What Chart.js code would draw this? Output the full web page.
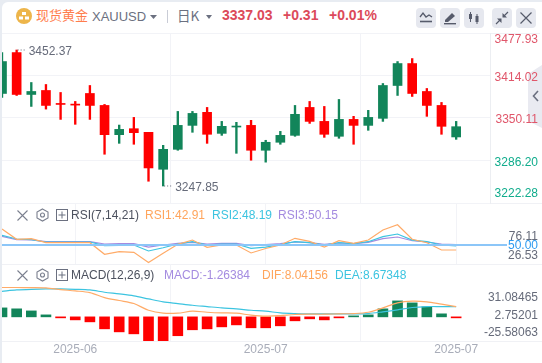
<!DOCTYPE html>
<html>
<head>
<meta charset="utf-8">
<script src="https://cdn.jsdelivr.net/npm/chart.js@4"></script>
<style>
  html, body { margin: 0; padding: 0; background: #e8ecf2; }
  body { width: 542px; height: 363px; overflow: hidden; position: relative; font-family: "Liberation Sans", Arial, sans-serif; }
  #card { position: absolute; left: 2px; top: 2px; width: 540px; height: 361px; background: #fff; border-radius: 6px 0 0 0; }
  .t { position: absolute; white-space: nowrap; line-height: 16px; font-size: 12px; }
  .rule { position: absolute; left: 2px; height: 1px; background: #f0f1f5; }
  .btn { position: absolute; top: 8px; width: 20px; height: 20px; background: #e6e8ef; border-radius: 4px; }
  .btn svg, .ic { position: absolute; }
  canvas { position: absolute; left: 0; }
  #tab { position: absolute; left: 528px; top: 65px; width: 14px; height: 63px; background: #e9eaf1; clip-path: polygon(0 9px, 100% 0, 100% 100%, 0 56px); }
</style>
</head>
<body>
<div id="card"></div>
<div class="rule" style="top:33px;width:538px"></div>
<div class="rule" style="top:203px;width:540px"></div>
<div class="rule" style="top:264px;width:540px"></div>
<div class="rule" style="top:341px;width:540px"></div>
<div id="tab"></div>
<svg class="ic" style="left:532px;top:90px" width="8" height="12"><path d="M6 1 L1.5 6 L6 11" fill="none" stroke="#6b7080" stroke-width="1.6"/></svg>

<svg class="ic" style="left:16px;top:8px" width="16" height="16"><circle cx="8" cy="8" r="8" fill="#edb54a"/><rect x="6" y="4" width="4" height="3" fill="#fff"/><rect x="3" y="8.5" width="4" height="3" fill="#fff"/><rect x="9" y="8.5" width="4" height="3" fill="#fff"/></svg>
<span class="t" style="left:36px;top:7px;font:13px/16px 'Noto Sans CJK SC';color:#ff7d4d">现货黄金</span>
<span class="t" style="left:92px;top:9px;font-size:13px;color:#6b7080">XAUUSD</span>
<svg class="ic" style="left:150px;top:15px" width="7" height="4"><path d="M0 0 H7 L3.5 4 Z" fill="#6b7080"/></svg>
<div class="ic" style="left:167px;top:10px;width:1px;height:13px;background:#c9ccd6"></div>
<span class="t" style="left:177px;top:7px;font:13.5px/16px 'Noto Sans CJK SC';color:#6b7080">日K</span>
<svg class="ic" style="left:206px;top:15px" width="6" height="4"><path d="M0 0 H6 L3 4 Z" fill="#6b7080"/></svg>
<span class="t" style="left:222px;top:7px;font-size:14px;font-weight:bold;color:#dc4a5a">3337.03</span>
<span class="t" style="left:283px;top:7px;font-size:14px;font-weight:bold;color:#dc4a5a">+0.31</span>
<span class="t" style="left:329px;top:7px;font-size:14px;font-weight:bold;color:#dc4a5a">+0.01%</span>

<div class="btn" style="left:416px"><svg width="20" height="20" fill="none" stroke="#565b6b" stroke-width="1.3"><path d="M4 9 L7 5 L10 9 L13 7 L16 9"/><path d="M4 13.5 H16" stroke-width="1.6"/></svg></div>
<div class="btn" style="left:440px"><svg width="20" height="20"><path d="M5 12 L12 5 L15 8 L8 14 L5 14 Z" fill="#565b6b"/><rect x="4" y="15" width="12" height="1.4" fill="#565b6b"/></svg></div>
<div class="btn" style="left:464px"><svg width="20" height="20" fill="#565b6b" stroke="#565b6b"><path d="M6.5 4 V14" stroke-width="1"/><rect x="5" y="6" width="3" height="5" stroke="none"/><path d="M13 6 V16" stroke-width="1"/><rect x="11.5" y="8" width="3" height="6" stroke="none"/></svg></div>
<div class="btn" style="left:492px"><svg width="20" height="20" fill="#565b6b" stroke="#565b6b" stroke-width="1.2"><path d="M4 16 L8.5 11.5 M16 4 L11.5 8.5"/><path d="M5 10.5 H9.5 V15 Z M15 9.5 H10.5 V5 Z" stroke="none"/></svg></div>
<div class="btn" style="left:516px"><svg width="20" height="20" fill="none" stroke="#565b6b" stroke-width="1.2"><path d="M4.5 4.5 L15.5 15.5 M15.5 4.5 L4.5 15.5"/></svg></div>

<canvas id="priceChart" width="542" height="180" style="top:28px"></canvas>
<canvas id="rsiChart" width="542" height="71" style="top:198px"></canvas>
<canvas id="macdChart" width="542" height="104" style="top:259px"></canvas>

<svg class="ic" style="left:16px;top:209px" width="13" height="13" fill="none" stroke="#7a7f8e" stroke-width="1.1"><path d="M1.5 1.5 L11.5 11.5 M11.5 1.5 L1.5 11.5"/></svg>
<svg class="ic" style="left:36px;top:208px" width="13" height="14" fill="none" stroke="#7a7f8e" stroke-width="1.1"><path d="M6.5 1 L12 4 V10 L6.5 13 L1 10 V4 Z"/><circle cx="6.5" cy="7" r="2"/></svg>
<svg class="ic" style="left:56px;top:209px" width="12" height="12" fill="none" stroke="#6b7080" stroke-width="1"><rect x="0.5" y="0.5" width="11" height="11"/><path d="M6 2.5 V9.5 M2.5 6 H9.5"/></svg>
<span class="t" style="left:71px;top:207px;color:#4c515e">RSI(7,14,21)</span>
<span class="t" style="left:145px;top:207px;color:#ffa55c">RSI1:42.91</span>
<span class="t" style="left:212px;top:207px;color:#3cc4e0">RSI2:48.19</span>
<span class="t" style="left:278px;top:207px;color:#a48be0">RSI3:50.15</span>

<svg class="ic" style="left:16px;top:269px" width="13" height="13" fill="none" stroke="#7a7f8e" stroke-width="1.1"><path d="M1.5 1.5 L11.5 11.5 M11.5 1.5 L1.5 11.5"/></svg>
<svg class="ic" style="left:36px;top:268px" width="13" height="14" fill="none" stroke="#7a7f8e" stroke-width="1.1"><path d="M6.5 1 L12 4 V10 L6.5 13 L1 10 V4 Z"/><circle cx="6.5" cy="7" r="2"/></svg>
<svg class="ic" style="left:56px;top:269px" width="12" height="12" fill="none" stroke="#6b7080" stroke-width="1"><rect x="0.5" y="0.5" width="11" height="11"/><path d="M6 2.5 V9.5 M2.5 6 H9.5"/></svg>
<span class="t" style="left:71px;top:267px;color:#4c515e">MACD(12,26,9)</span>
<span class="t" style="left:164px;top:267px;color:#a48be0">MACD:-1.26384</span>
<span class="t" style="left:262px;top:267px;color:#ffa55c">DIF:8.04156</span>
<span class="t" style="left:335px;top:267px;color:#3cc4e0">DEA:8.67348</span>

<script>
const opens  = [3387,3448.5,3385.5,3391.5,3372,3371,3387,3369,3325,3334,3328.6,3273,3303,3339,3358.6,3327,3336.5,3339,3301.6,3313.6,3324,3366,3345,3322.6,3348,3339,3349.6,3399,3432,3390,3369,3321.6];
const highs  = [3448.5,3452.37,3403.5,3400.5,3388.5,3375,3399,3370.5,3339.5,3351,3328.6,3309,3360,3360,3366,3345,3343.6,3346.6,3316.6,3330,3369,3375,3367.5,3378,3352.6,3361.6,3402,3435,3439.5,3394.5,3373.5,3345];
const lows   = [3381,3384,3367.5,3363.5,3348,3340.6,3348,3295.6,3312,3310.6,3255,3247.85,3301.6,3328.6,3312,3324,3297,3286.6,3283.7,3310.6,3322.6,3342,3321,3319.6,3310.6,3331.6,3345,3384,3382.5,3352.6,3325.6,3318];
const closes = [3435,3385.5,3390,3369,3370.5,3369.5,3369,3325,3333,3328,3275,3303,3339,3357,3325.6,3337.6,3338,3301.6,3313.6,3324,3355.6,3345,3325.6,3348,3339,3351,3399,3432,3387,3369,3337.6,3337.03];

const rsi1 = [70.5,57,57.8,52.5,52.5,52.5,52.5,37.2,40.7,39.9,26.53,38.6,50.4,56,46.4,49.5,49.5,39,44.9,49.5,58.3,54.3,46.8,55.1,51.7,56,69.2,76.11,57,52.5,42.9,42.91];
const rsi2 = [62.2,57.4,56.4,53.4,53.4,53.4,53.4,48.6,49.1,49.5,41.6,45.9,50.8,53.8,49.5,50.8,50.8,45.1,46.8,49.9,53.8,52.5,49.5,52.5,51.2,53.8,60.4,63.9,56,53.8,49.5,48.19];
const rsi3 = [60.9,56.4,56.1,53.8,53.8,53.8,53.8,50.8,51.2,51.2,46.8,49.5,51.7,53,50.8,51.7,51.7,48.6,49.9,51.2,53.4,52.5,50.4,52.1,51.2,53,57.8,60,55.1,53.4,50.8,50.15];

const macdHist = [9.5,8.5,6.3,2.1,-1,-3.2,-5.3,-12.7,-15.9,-18,-25.58,-25.4,-20,-13.7,-12.7,-10.6,-8.5,-11.6,-11.6,-9.5,-4.2,-2.1,-3.2,-0.7,0.7,2.1,8.5,16.9,14.8,10.6,3.2,-0.8];
const dif = [31.08,31.08,31,30.7,28.9,27.5,25.7,20.4,17.3,14.1,7,3.9,3.9,6,4.9,4.2,3.9,1.8,0.7,1.4,2.5,2.8,2.8,3.2,3.5,4.9,9.5,14.8,16.6,15.9,13.4,10.9];
const dea = [27.1,28.5,29.2,29.6,29.6,29.2,28.5,26.1,24.3,22.2,19,15.9,14.1,12.3,10.9,9.5,8.5,7,6,4.2,3.5,3.2,3.2,3.2,3.2,3.5,5.3,7.4,9.9,10.9,10.9,10.9];

const priceTicks = [3477.93,3414.02,3350.11,3286.20,3222.28];
const rsiTicks = [76.11,50,26.53];
const macdTicks = [31.08465,2.75201,-25.58063];
const timeTicks = ["2025-06","2025-07","2025-07"];
const timeTickIdx = [5,18,31];

const UP = "#12855a", DOWN = "#ff0000";
const ORANGE = "#ffab68", CYAN = "#3cc4e0", PURPLE = "#a48be0";
const GRID = "#f2f3f7", TEXT = "#666b7a";
const STEP = 14.65; // px between candles
const FONT = "Liberation Sans";

const pts = arr => arr.map((y, x) => ({ x, y }));
const candleColor = closes.map((c, i) => c >= opens[i] ? UP : DOWN);

function lineSet(data, color, tension) {
  return { type: "line", data: pts(data), borderColor: color, borderWidth: 1.2, pointRadius: 0, tension, order: 0 };
}

function xScale(maxPx, showLabels) {
  return {
    type: "linear", offset: false, min: 0, max: maxPx / STEP,
    afterBuildTicks: s => { s.ticks = timeTickIdx.map(value => ({ value })); },
    afterFit: s => { s.height = showLabels ? 22 : 0; },
    border: { display: false },
    grid: { color: GRID, drawTicks: false },
    ticks: {
      display: showLabels, autoSkip: false, maxRotation: 0, padding: 1,
      color: "#a9adb9", font: { family: FONT, size: 12 },
      callback: v => timeTicks[timeTickIdx.indexOf(v)]
    }
  };
}

// tick text sits off its gridline near the pane edges, so it is painted here
function sideLabels(values, texts, shifts, colors) {
  return {
    id: "sideLabels",
    afterDraw(chart) {
      const { ctx, scales: { y } } = chart;
      ctx.save();
      ctx.font = "12px '" + FONT + "'";
      ctx.textAlign = "right";
      ctx.textBaseline = "middle";
      values.forEach((v, i) => {
        ctx.fillStyle = colors[i];
        ctx.fillText(texts[i], 538, y.getPixelForValue(v) + shifts[i]);
      });
      ctx.restore();
    }
  };
}

const extremes = {
  id: "extremes",
  afterDraw(chart) {
    const { ctx, scales: { x, y } } = chart;
    const mark = (value, i) => {
      const px = x.getPixelForValue(i), py = y.getPixelForValue(value);
      ctx.strokeStyle = TEXT;
      ctx.lineWidth = 1;
      ctx.setLineDash([1, 2]);
      ctx.beginPath();
      ctx.moveTo(px + 1, py);
      ctx.lineTo(px + 10, py);
      ctx.stroke();
      ctx.fillStyle = TEXT;
      ctx.font = "12px '" + FONT + "'";
      ctx.textBaseline = "middle";
      ctx.fillText(value.toFixed(2), px + 12, py + 2);
    };
    ctx.save();
    const hi = Math.max(...highs), lo = Math.min(...lows);
    mark(hi, highs.indexOf(hi));
    mark(lo, lows.indexOf(lo));
    ctx.restore();
  }
};

const baseOptions = {
  responsive: false, animation: false,
  plugins: { legend: { display: false }, tooltip: { enabled: false } }
};

new Chart(document.getElementById("priceChart"), {
  type: "bar",
  data: {
    datasets: [
      { data: opens.map((o, i) => ({ x: i, y: [o, closes[i]] })), backgroundColor: candleColor, barThickness: 9, minBarLength: 1, grouped: false, order: 1 },
      { data: highs.map((h, i) => ({ x: i, y: [lows[i], h] })), backgroundColor: candleColor, barThickness: 1.7, grouped: false, order: 2 }
    ]
  },
  options: {
    ...baseOptions,
    layout: { padding: { left: 2, top: 5, bottom: 5 } },
    scales: {
      x: xScale(488, false),
      y: {
        position: "right", min: 3222.28, max: 3477.93,
        afterBuildTicks: s => { s.ticks = priceTicks.map(value => ({ value })); },
        afterFit: s => { s.width = 52; },
        border: { color: "#eceef2" },
        grid: { color: GRID, drawTicks: false },
        ticks: { display: false }
      }
    }
  },
  plugins: [
    sideLabels(priceTicks, priceTicks.map(v => v.toFixed(2)), [7, 2, 1.5, 2, -9],
      ["#e0566a", "#e0566a", "#e0566a", "#10ac8c", "#10ac8c"]),
    extremes
  ]
});

new Chart(document.getElementById("rsiChart"), {
  type: "line",
  data: { datasets: [lineSet(rsi1, ORANGE, 0), lineSet(rsi2, CYAN, 0), lineSet(rsi3, PURPLE, 0)] },
  options: {
    ...baseOptions,
    layout: { padding: { left: 2, top: 5, bottom: 5, right: 35 } },
    scales: {
      x: xScale(505, false),
      y: {
        min: 24.5, max: 104.7,
        afterBuildTicks: s => { s.ticks = [{ value: 50 }]; },
        afterFit: s => { s.width = 0; },
        border: { display: false },
        grid: { color: "#8cc6f8", lineWidth: 2, drawTicks: false, z: 1 },
        ticks: { display: false }
      }
    }
  },
  plugins: [sideLabels(rsiTicks, rsiTicks.map(v => v.toFixed(2)), [12, 1.5, -6.4], [TEXT, "#2e9bf0", TEXT])]
});

new Chart(document.getElementById("macdChart"), {
  type: "bar",
  data: {
    datasets: [
      { data: pts(macdHist), backgroundColor: macdHist.map(v => v >= 0 ? UP : DOWN), barThickness: 10, minBarLength: 1, order: 1 },
      lineSet(dif, ORANGE, 0.3),
      lineSet(dea, CYAN, 0.3)
    ]
  },
  options: {
    ...baseOptions,
    layout: { padding: { left: 2, top: 5 } },
    scales: {
      x: xScale(540, true),
      y: { display: false, min: -25.58, max: 56 }
    }
  },
  plugins: [sideLabels(macdTicks, macdTicks.map(v => v.toFixed(5)), [10, 1, -8], [TEXT, TEXT, TEXT])]
});
</script>
</body>
</html>
